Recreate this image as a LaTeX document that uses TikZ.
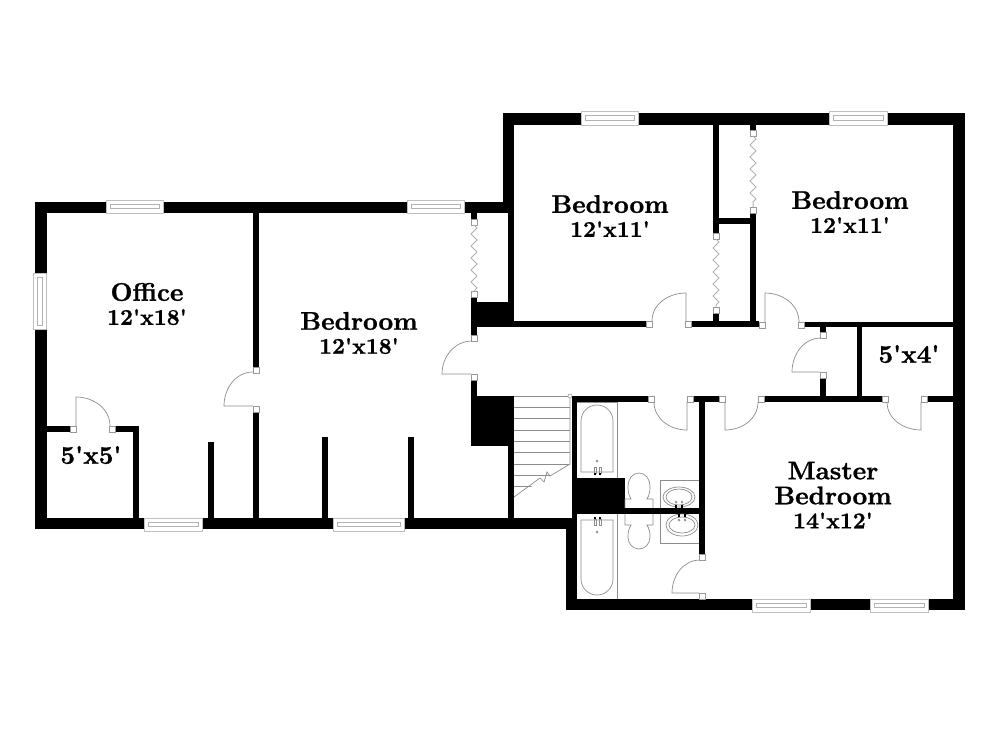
\documentclass[tikz,border=0pt]{standalone}
\usepackage{amsmath}
\usepackage{fontspec}
\usetikzlibrary{calc,decorations.pathmorphing,positioning}
\newfontfamily\roomfont[Extension=.otf,FakeBold=1.0]{lmroman10-bold}
\newcommand\dimsize{\fontsize{22.5}{24}\selectfont}
\tikzset{
  wall/.style={fill=black,draw=none},
  jamb/.style={fill=white,draw=black!40,line width=0.6pt},
  fixture/.style={draw=black!45,line width=0.7pt},
  pane/.style={fill=white,draw=black!25,line width=0.8pt},
  glass/.style={draw=black!30,line width=0.5pt},
  bifold/.style={draw=black!30,line width=1pt,decorate,decoration={zigzag,segment length=12pt,amplitude=3pt}},
  room/.style={align=center,font=\fontsize{25.5}{25}\selectfont\roomfont,inner sep=0pt},
}
\begin{document}
\begin{tikzpicture}[x=1pt,y=-1pt]
\useasboundingbox (0,0) rectangle (1000,729);
% outer walls
\fill[wall] (35,202) rectangle (514,213);
\fill[wall] (35,202) rectangle (47,529);
\fill[wall] (35,518) rectangle (577,529);
\fill[wall] (503,113) rectangle (514,213);
\fill[wall] (503,113) rectangle (965,125);
\fill[wall] (953,113) rectangle (965,610);
\fill[wall] (566,518) rectangle (577,610);
\fill[wall] (566,599) rectangle (965,610);
% inner walls, left part
\fill[wall] (253,213) rectangle (259,367);
\fill[wall] (253,412) rectangle (259,518);
\fill[wall] (47,426) rectangle (70,432);
\fill[wall] (115,426) rectangle (139,432);
\fill[wall] (133,426) rectangle (139,518);
\fill[wall] (208,442) rectangle (214,518);
\fill[wall] (322,437) rectangle (328,518);
\fill[wall] (408,437) rectangle (414,518);
% inner walls, hall
\fill[wall] (471,213) rectangle (477,219);
\fill[wall] (471,297) rectangle (477,335);
\fill[wall] (471,302) rectangle (514,327);
\fill[wall] (508,213) rectangle (514,327);
\fill[wall] (471,380) rectangle (477,396);
\fill[wall] (471,396) rectangle (514,446);
\fill[wall] (508,446) rectangle (514,518);
\fill[wall] (514,321) rectangle (646,327);
\fill[wall] (691,321) rectangle (759,327);
\fill[wall] (804,322) rectangle (953,327);
\fill[wall] (713,125) rectangle (719,233);
\fill[wall] (713,312) rectangle (719,322);
\fill[wall] (750,125) rectangle (756,130);
\fill[wall] (750,213) rectangle (756,322);
\fill[wall] (719,218) rectangle (750,224);
\fill[wall] (820,327) rectangle (826,332);
\fill[wall] (820,378) rectangle (826,397);
\fill[wall] (857,327) rectangle (862,397);
\fill[wall] (572,396) rectangle (648,402);
\fill[wall] (693,396) rectangle (719,402);
\fill[wall] (764,396) rectangle (882,402);
\fill[wall] (926,396) rectangle (953,402);
\fill[wall] (572,396) rectangle (577,518);
\fill[wall] (699,402) rectangle (705,554);
\fill[wall] (572,478) rectangle (625,514);
\fill[wall] (625,508) rectangle (705,514);
% windows
\foreach \wx/\wy/\wa/\wb in {106/200/163/213, 144/518/202/531, 333/518/404/531, 407/200/464/213, 581/111/638/125, 829/111/887/125, 752/599/810/612, 870/599/928/612}{
  \draw[pane] (\wx,\wy) rectangle (\wa,\wb);
  \draw[glass] (\wx+4,\wy+4) rectangle (\wa-4,\wb-5);
}
\draw[pane] (33,273) rectangle (46,329);
\draw[glass] (37,277) rectangle (42,325);
% jambs
\foreach \ja/\jb in {253/367, 253/406, 70/426, 109/426, 471/291, 471/335, 471/374, 471/219, 646/321, 685/321, 759/322, 798/322, 713/233, 713/307, 750/130, 750/207, 820/332, 820/372, 648/396, 687/396, 719/396, 758/396, 882/396, 921/396, 699/554, 699/593}{
  \draw[jamb] (\ja,\jb) rectangle ++(6,6);
}
% door leaves
\draw[fixture] (253,406) -- (224,406) to[out=90,in=180] (253,372);
\draw[fixture] (76,426) -- (76,397) to[out=0,in=90] (110,426);
\draw[fixture] (471,374) -- (442,374) to[out=90,in=180] (472,341);
\draw[fixture] (686,321) -- (686,293) to[out=180,in=90] (652,321);
\draw[fixture] (765,322) -- (765,293) to[out=0,in=90] (799,322);
\draw[fixture] (820,372) -- (792,372) to[out=90,in=180] (821,338);
\draw[fixture] (687,402) -- (687,430) to[out=180,in=-90] (654,402);
\draw[fixture] (725,402) -- (725,430) to[out=0,in=-90] (758,402);
\draw[fixture] (921,402) -- (921,430) to[out=180,in=-90] (887,402);
\draw[fixture] (699,593) -- (672,593) to[out=90,in=180] (700,560);
% folding doors
\draw[bifold] (474,225) -- (474,291);
\draw[bifold] (716,239) -- (716,307);
\draw[bifold] (753,136) -- (753,207);
% stairs
\foreach \sy in {396,407,418,430,441,452,464,475,486}{
  \draw[fixture] (514,\sy) -- (570,\sy);
}
\fill[white] (514,497) -- (570,464) -- (570,500) -- (514,500) -- cycle;
\draw[fixture] (570,396) -- (570,464) -- (550,476) -- (547,472) -- (544,482) -- (540,478) -- (514,497);
\draw[jamb] (570,396) circle (2);
% upper bath
\draw[fixture] (577,402) -- (617,402) -- (617,478);
\draw[fixture] (581,472) -- (581,421) to[out=90,in=180] (597,405) to[out=0,in=90] (613,421) -- (613,472) -- cycle;
\draw[fixture] (594,467) rectangle (596,473);
\draw[fixture] (599,467) rectangle (601,473);
\fill[black] (594,473) rectangle (596,475);
\fill[black] (599,473) rectangle (601,475);
\draw[fixture] (597,461) circle (1);
% lower bath
\draw[fixture] (617,514) -- (617,599);
\draw[fixture] (581,520) -- (613,520) -- (613,579) to[out=-90,in=0] (597,595) to[out=180,in=-90] (581,579) -- cycle;
\draw[fixture] (594,519) rectangle (596,525);
\draw[fixture] (599,519) rectangle (601,525);
\fill[black] (594,517) rectangle (596,519);
\fill[black] (599,517) rectangle (601,519);
\draw[fixture] (597,532) circle (1);
% toilets
\draw[fixture] (625,508) -- (625,499) -- (631,499) to[out=120,in=-90] (628,486) to[out=90,in=180] (639,473) to[out=0,in=90] (650,486) to[out=-90,in=60] (647,499) -- (653,499) -- (653,508);
\draw[fixture] (625,514) -- (625,525) -- (631,525) to[out=-120,in=90] (628,537) to[out=-90,in=180] (639,549) to[out=0,in=-90] (650,537) to[out=90,in=-60] (647,525) -- (653,525) -- (653,514);
% sinks
\draw[fixture] (660,508) -- (660,480) -- (699,480);
\draw[fixture] (660,514) -- (660,543) -- (699,543);
\draw[fixture] (679,497) ellipse (16 and 10);
\draw[fixture] (679,497) ellipse (13 and 8);
\draw[fixture] (682,525) ellipse (16 and 11);
\draw[fixture] (682,525) ellipse (13 and 8);
\foreach \fx in {675,681}{
  \fill[black] (\fx,505) rectangle +(2,3);
  \fill[black] (\fx+3,514) rectangle +(2,3);
  \draw[fixture] (\fx+1,502) circle (1);
  \draw[fixture] (\fx+4,520) circle (1);
}
% labels
\node[room] (office) at (147,304) {Office\\[-1pt]\dimsize 12'x18'};
\node[room] (closetw) at (91,455) {5'x5'};
\node[room] (bedroomw) at (359,333) {Bedroom\\[-1pt]\dimsize 12'x18'};
\node[room] (bedroomn) at (610,216) {Bedroom\\[-1pt]\dimsize 12'x11'};
\node[room] (bedroome) at (850,212) {Bedroom\\[-1pt]\dimsize 12'x11'};
\node[room] (closete) at (909,354) {5'x4'};
\node[room] (master) at (833,495) {Master\\Bedroom\\[-1pt]\dimsize 14'x12'};
\end{tikzpicture}
\end{document}
